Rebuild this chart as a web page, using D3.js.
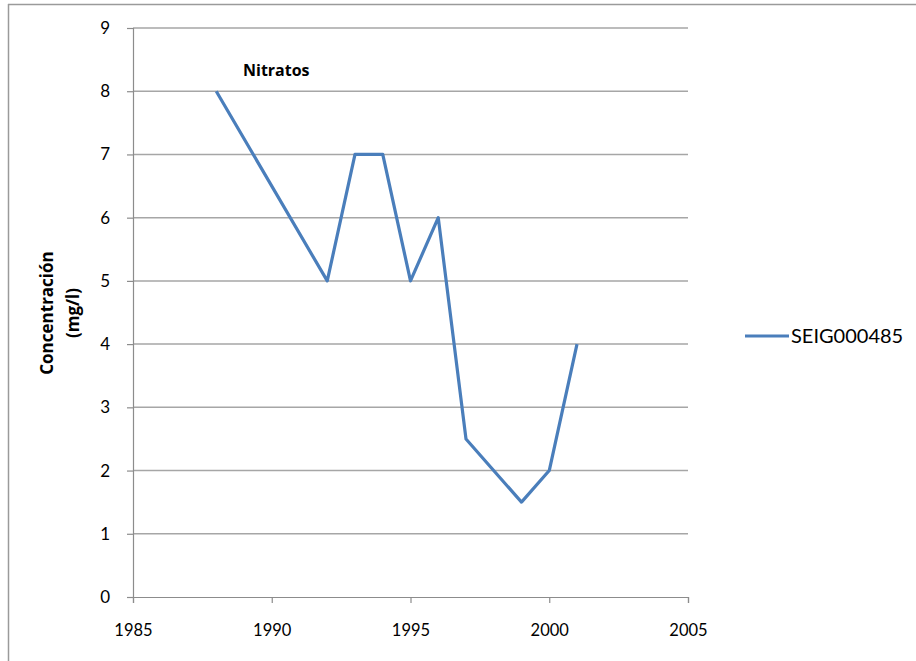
<!DOCTYPE html>
<html>
<head>
<meta charset="utf-8">
<script src="https://cdn.jsdelivr.net/npm/d3@7"></script>
<style>
  html, body { margin: 0; padding: 0; background: #fff; }
  svg { display: block; }
  text { fill: #000; }
</style>
</head>
<body>
<svg id="chart" width="916" height="661"></svg>
<script>
// Nitrate concentration at station SEIG000485
const years = [1988, 1992, 1993, 1994, 1995, 1996, 1997, 1999, 2000, 2001];
const concentration = [8, 5, 7, 7, 5, 6, 2.5, 1.5, 2, 4];
const seriesName = "SEIG000485";
const xTicks = [1985, 1990, 1995, 2000, 2005];
const yTicks = [0, 1, 2, 3, 4, 5, 6, 7, 8, 9];

const svg = d3.select("#chart");

// chart frame (top and left edges visible)
svg.append("line").attr("x1", 8).attr("x2", 916).attr("y1", 4.5).attr("y2", 4.5)
  .attr("stroke", "#9a9a9a").attr("stroke-width", 1.5);
svg.append("line").attr("x1", 8.5).attr("x2", 8.5).attr("y1", 4).attr("y2", 661)
  .attr("stroke", "#9a9a9a").attr("stroke-width", 1.5);

const x = d3.scaleLinear().domain([1985, 2005]).range([133, 688]);
const y = d3.scaleLinear().domain([0, 9]).range([597, 28]);

// horizontal gridlines
svg.append("g").selectAll("line").data(yTicks.filter(d => d > 0)).join("line")
  .attr("x1", x(1985)).attr("x2", x(2005))
  .attr("y1", d => y(d)).attr("y2", d => y(d))
  .attr("stroke", "#a6a6a6").attr("stroke-width", 1.5);

// y axis
const yAxis = svg.append("g").attr("transform", `translate(${x(1985)},0)`)
  .call(d3.axisLeft(y).tickValues(yTicks).tickFormat(d3.format("d")).tickSize(6).tickPadding(17));
yAxis.select(".domain").attr("stroke", "#8c8c8c").attr("stroke-width", 1.2);
yAxis.selectAll(".tick line").attr("stroke", "#8c8c8c").attr("stroke-width", 1.2);
yAxis.selectAll(".tick text").style("font-size", "17px").style("font-family", "Lato, sans-serif").attr("fill", "#000");

// x axis
const xAxis = svg.append("g").attr("transform", `translate(0,${y(0)})`)
  .call(d3.axisBottom(x).tickValues(xTicks).tickFormat(d3.format("d")).tickSize(6).tickPadding(21));
xAxis.select(".domain").attr("stroke", "#8c8c8c").attr("stroke-width", 1.2);
xAxis.selectAll(".tick line").attr("stroke", "#8c8c8c").attr("stroke-width", 1.2);
xAxis.selectAll(".tick text").style("font-size", "16.5px").style("font-family", "Lato, sans-serif").attr("fill", "#000");

// data line
const pts = years.map((yr, i) => [yr, concentration[i]]);
svg.append("path").datum(pts)
  .attr("fill", "none").attr("stroke", "#4a7ebb").attr("stroke-width", 3.2)
  .attr("stroke-linejoin", "round")
  .attr("d", d3.line().x(d => x(d[0])).y(d => y(d[1])));

// title
svg.append("text").attr("x", 243).attr("y", 76)
  .style("font-family", "'Open Sans', sans-serif")
  .style("font-size", "16px").style("font-weight", "bold").text("Nitratos");

// y axis title
const yt = svg.append("text").attr("transform", `translate(53,313) rotate(-90)`)
  .style("font-family", "'Open Sans', sans-serif")
  .attr("text-anchor", "middle").style("font-size", "17px").style("font-weight", "bold");
yt.append("tspan").attr("x", 0).attr("dy", 0).text("Concentración");
yt.append("tspan").attr("x", 0).attr("dy", 26).text("(mg/l)");

// legend
svg.append("line").attr("x1", 745).attr("x2", 789).attr("y1", 336).attr("y2", 336)
  .attr("stroke", "#4a7ebb").attr("stroke-width", 3.2);
svg.append("text").attr("x", 791).attr("y", 343)
  .style("font-family", "Lato, sans-serif").style("font-size", "20px").text(seriesName);
</script>
</body>
</html>
